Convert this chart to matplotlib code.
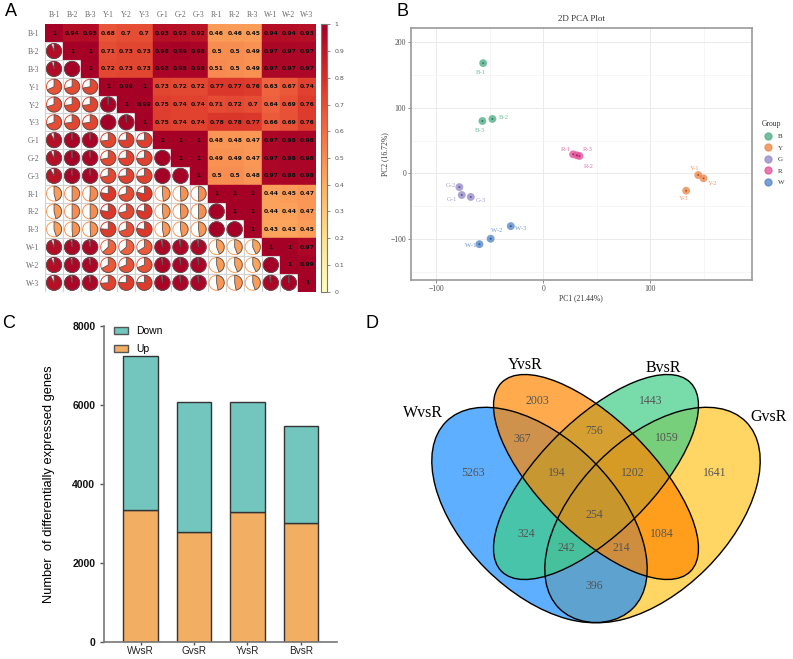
import numpy as np
import matplotlib
matplotlib.use('Agg')
import matplotlib.pyplot as plt
from matplotlib.patches import Ellipse, Rectangle, Wedge, Circle
from matplotlib.colors import LinearSegmentedColormap
from matplotlib.lines import Line2D
from matplotlib.patches import Patch

W, H = 793, 659

# ---------------- data ----------------
# panel A: sample correlations (upper triangle, row by row)
samples = ['B-1', 'B-2', 'B-3', 'Y-1', 'Y-2', 'Y-3', 'G-1', 'G-2', 'G-3',
           'R-1', 'R-2', 'R-3', 'W-1', 'W-2', 'W-3']
cor_upper = [
    [1, 0.94, 0.95, 0.68, 0.7, 0.7, 0.93, 0.93, 0.92, 0.46, 0.46, 0.45, 0.94, 0.94, 0.93],
    [1, 1, 0.71, 0.73, 0.73, 0.98, 0.99, 0.98, 0.5, 0.5, 0.49, 0.97, 0.97, 0.97],
    [1, 0.72, 0.73, 0.73, 0.98, 0.98, 0.98, 0.51, 0.5, 0.49, 0.97, 0.97, 0.97],
    [1, 0.99, 1, 0.73, 0.72, 0.72, 0.77, 0.77, 0.76, 0.63, 0.67, 0.74],
    [1, 0.99, 0.75, 0.74, 0.74, 0.71, 0.72, 0.7, 0.64, 0.69, 0.76],
    [1, 0.75, 0.74, 0.74, 0.78, 0.78, 0.77, 0.66, 0.69, 0.76],
    [1, 1, 1, 0.48, 0.48, 0.47, 0.97, 0.98, 0.98],
    [1, 1, 0.49, 0.49, 0.47, 0.97, 0.98, 0.98],
    [1, 0.5, 0.5, 0.48, 0.97, 0.98, 0.98],
    [1, 1, 1, 0.44, 0.45, 0.47],
    [1, 1, 0.44, 0.44, 0.47],
    [1, 0.43, 0.43, 0.45],
    [1, 1, 0.97],
    [1, 0.99],
    [1],
]

# panel B: PCA scores
pc1 = [-56, -47.4, -56.7, 144.9, 149.8, 133.6, -76, -78.2, -67.6,
       28, 34, 31.5, -59.5, -49, -30.2]
pc2 = [168, 82.9, 79.8, -2.6, -7.6, -26.5, -33, -21, -36,
       29, 26.4, 27.5, -108, -99.7, -80.5]
groups = ['B', 'Y', 'G', 'R', 'W']

# panel C: DEG counts
comparisons = ['WvsR', 'GvsR', 'YvsR', 'BvsR']
up_genes = [3340, 2775, 3283, 3020]
down_genes = [3910, 3315, 2792, 2453]

# panel D: venn region counts
venn_sets = ['WvsR', 'YvsR', 'BvsR', 'GvsR']
venn_counts = [5263, 2003, 1443, 1641, 367, 756, 1059, 194, 1202, 254,
               324, 1084, 242, 214, 396]

# ---------------- figure ----------------
fig = plt.figure(figsize=(W / 100, H / 100), dpi=100)

# ---- panel A ----
n = len(samples)
cor = np.ones((n, n))
for i, row in enumerate(cor_upper):
    for k, v in enumerate(row):
        cor[i, i + k] = v
        cor[i + k, i] = v

cmap = LinearSegmentedColormap.from_list(
    'cor', ['#FFFFBF', '#FEE090', '#FDAE61', '#F46D43', '#D73027', '#A50026'])

axA = fig.add_axes([45 / W, 1 - 291.7 / H, 271 / W, 267.4 / H])
for i in range(n):
    for j in range(n):
        v = cor[i, j]
        col = cmap(v)
        if j >= i:
            axA.add_patch(Rectangle((j, i), 1, 1, facecolor=col, edgecolor=col, lw=0.3))
            axA.text(j + 0.5, i + 0.5, f"{v:g}", ha='center', va='center',
                     fontsize=4.3, fontweight='bold', color='#111111')
        else:
            axA.add_patch(Rectangle((j, i), 1, 1, facecolor='white', edgecolor='#d2d2d2', lw=0.8))
            axA.add_patch(Circle((j + 0.5, i + 0.5), 0.42, facecolor='white', edgecolor=col, lw=0.7))
            axA.add_patch(Wedge((j + 0.5, i + 0.5), 0.42, 270, 270 + 360 * v,
                                facecolor=col, edgecolor='#555555', lw=0.6))
axA.set_xlim(0, n)
axA.set_ylim(n, 0)
axA.set_xticks(np.arange(n) + 0.5)
axA.set_yticks(np.arange(n) + 0.5)
axA.set_xticklabels(samples, family='Liberation Serif', fontsize=5.5, color='#666666')
axA.set_yticklabels(samples, family='Liberation Serif', fontsize=5.5, color='#666666')
axA.xaxis.tick_top()
axA.tick_params(length=0, pad=4)
for s in axA.spines.values():
    s.set_visible(False)

caxA = fig.add_axes([320.5 / W, 1 - 291.7 / H, 6.5 / W, 267.4 / H])
sm = plt.cm.ScalarMappable(cmap=cmap, norm=plt.Normalize(0, 1))
cb = fig.colorbar(sm, cax=caxA, ticks=np.linspace(0, 1, 11))
cb.ax.set_yticklabels([f"{t:g}" for t in np.round(np.linspace(0, 1, 11), 1)])
cb.ax.tick_params(labelsize=4.5, length=2, width=0.5, colors='#555555')
cb.outline.set_edgecolor('#777777')
cb.outline.set_linewidth(0.8)

# ---- panel B ----
grp_colors = {'B': '#52B08A', 'Y': '#EC8A4F', 'G': '#988CCA', 'R': '#E2579B', 'W': '#5688C9'}
grp_dark = {'B': '#2E7F5E', 'Y': '#B8531D', 'G': '#5F5299', 'R': '#B0226A', 'W': '#265A9E'}
label_off = [(-2, 9), (11, -1), (-3, 10), (-4, -7), (9, 5), (-3, 8), (-10, 5), (-9, -2),
             (10, 4), (-7, -5), (9, 10), (11, -6), (-9, 1), (6, -8), (10, 2)]

axB = fig.add_axes([411 / W, 1 - 280 / H, 340.7 / W, 252.3 / H])
axB.set_xlim(-123.4, 194.8)
axB.set_ylim(-162.6, 222)
axB.set_xticks([-100, 0, 100])
axB.set_yticks([-100, 0, 100, 200])
axB.set_xticks([-50, 50, 150], minor=True)
axB.set_yticks([-150, -50, 50, 150], minor=True)
axB.grid(True, which='major', color='#EBEBEB', lw=0.7)
axB.grid(True, which='minor', color='#F3F3F3', lw=0.5)
axB.set_axisbelow(True)
for s in axB.spines.values():
    s.set_color('#9A9A9A')
    s.set_linewidth(1.2)
axB.tick_params(which='major', length=2, width=0.6, colors='#777777', labelsize=5.5,
                labelcolor='#4D4D4D', pad=1.5)
axB.tick_params(which='minor', length=0)
for lab in axB.get_xticklabels() + axB.get_yticklabels():
    lab.set_family('Liberation Serif')
for k, name in enumerate(samples):
    g = name[0]
    axB.scatter(pc1[k], pc2[k], s=32, color=grp_colors[g], alpha=0.8, edgecolors='none', zorder=3)
    axB.scatter(pc1[k], pc2[k], s=2, color=grp_dark[g], edgecolors='none', zorder=4)
    dx, dy = label_off[k]
    axB.annotate(name, (pc1[k], pc2[k]), xytext=(dx, -dy), textcoords='offset pixels',
                 ha='center', va='center', fontsize=4.8, color=grp_colors[g], alpha=0.85,
                 family='Liberation Serif')
axB.set_title('2D PCA Plot', fontsize=6.5, family='Liberation Serif', color='#333333', pad=5)
axB.set_xlabel('PC1 (21.44%)', fontsize=5.5, family='Liberation Serif', color='#333333', labelpad=1)
axB.set_ylabel('PC2 (16.72%)', fontsize=5.5, family='Liberation Serif', color='#333333', labelpad=1)
handles = [Line2D([], [], ls='none', marker='o', ms=5, color=grp_colors[g], alpha=0.8) for g in groups]
leg = axB.legend(handles, groups, title='Group', loc='upper left', bbox_to_anchor=(1.02, 0.645),
                 frameon=False, fontsize=5, title_fontsize=5.5, borderaxespad=0,
                 handletextpad=0.4, labelspacing=0.8, alignment='left')
for t in leg.get_texts() + [leg.get_title()]:
    t.set_family('Liberation Serif')
    t.set_color('#333333')

# ---- panel C ----
axC = fig.add_axes([104.3 / W, 1 - 641.7 / H, 232.4 / W, 315.4 / H])
x = np.arange(len(comparisons))
axC.bar(x, up_genes, 0.65, color='#F2AE62', edgecolor='#333333', lw=1)
axC.bar(x, down_genes, 0.65, bottom=up_genes, color='#72C6BE', edgecolor='#333333', lw=1)
axC.set_xlim(-0.68, 3.67)
axC.set_ylim(0, 8000)
axC.set_yticks([0, 2000, 4000, 6000, 8000])
axC.set_xticks(x)
axC.set_xticklabels(comparisons, family='Liberation Sans', fontsize=7.2, color='#222222')
for lab in axC.get_yticklabels():
    lab.set_family('Liberation Sans')
    lab.set_fontweight('bold')
    lab.set_fontsize(7.5)
axC.tick_params(axis='y', length=3, width=1, colors='#555555', labelcolor='#111111')
axC.tick_params(axis='x', length=2.5, width=1, colors='#555555', labelcolor='#222222', pad=0.5)
for s in ['top', 'right']:
    axC.spines[s].set_visible(False)
for s in ['left', 'bottom']:
    axC.spines[s].set_color('#777777')
    axC.spines[s].set_linewidth(1.2)
axC.set_ylabel('Number  of differentially expressed genes', family='Liberation Sans',
               fontsize=9.3, labelpad=12)
axC.legend([Patch(facecolor='#72C6BE', edgecolor='#555555'),
            Patch(facecolor='#F2AE62', edgecolor='#555555')], ['Down', 'Up'],
           loc='upper left', bbox_to_anchor=(0.0, 1.03), frameon=False,
           prop={'family': 'Liberation Sans', 'size': 7.5}, handlelength=1.4,
           handleheight=0.65, handletextpad=0.75, labelspacing=0.75)

# ---- panel D ----
axD = fig.add_axes([390 / W, 0, 403 / W, 359 / H])
axD.set_xlim(390, 793)
axD.set_ylim(659, 300)
axD.axis('off')
# ellipse layout: set -> (center, width, height, angle, colour); drawn in this order
ell_layout = {'GvsR': ((652.5, 515), 264, 152, -45, '#FFC422'),
              'WvsR': ((539.5, 515), 264, 152, 45, '#1A8DFF'),
              'BvsR': ((596, 477), 267, 113, -45, '#3ECD86'),
              'YvsR': ((596, 477), 267, 113, 45, '#FF8600')}
draw_order = ['GvsR', 'WvsR', 'BvsR', 'YvsR']
for name in draw_order:
    c, w, h, ang, col = ell_layout[name]
    axD.add_patch(Ellipse(c, w, h, angle=ang, facecolor=col, alpha=0.7, edgecolor='none'))
for name in draw_order:
    c, w, h, ang, col = ell_layout[name]
    axD.add_patch(Ellipse(c, w, h, angle=ang, fill=False, edgecolor='black', lw=1))

set_label_pos = [(423.3, 413.3), (525, 365), (663.3, 368.3), (768.3, 416.7)]
for name, (px, py) in zip(venn_sets, set_label_pos):
    axD.text(px, py, name, ha='center', va='center', fontsize=11.5, family='Liberation Serif')
count_pos = [(473.3, 473.3), (537.7, 400.7), (651, 400.7), (715, 473.3),
             (522.7, 439), (594.3, 431), (666.7, 438.3), (556.7, 473.3),
             (632.3, 473.3), (594.3, 515), (526.7, 534), (662.3, 534),
             (566, 548.3), (621, 548.3), (594.3, 586)]
for cnt, (px, py) in zip(venn_counts, count_pos):
    axD.text(px, py, str(cnt), ha='center', va='center', fontsize=8.5,
             family='Liberation Serif', color='#555555')

# panel letters
for letter, (px, py) in zip('ABCD', [(11, 12), (402, 12), (9, 323), (372, 323)]):
    fig.text(px / W, 1 - py / H, letter, ha='center', va='center', fontsize=13,
             family='Liberation Sans')

fig.savefig('out.png', dpi=100)
